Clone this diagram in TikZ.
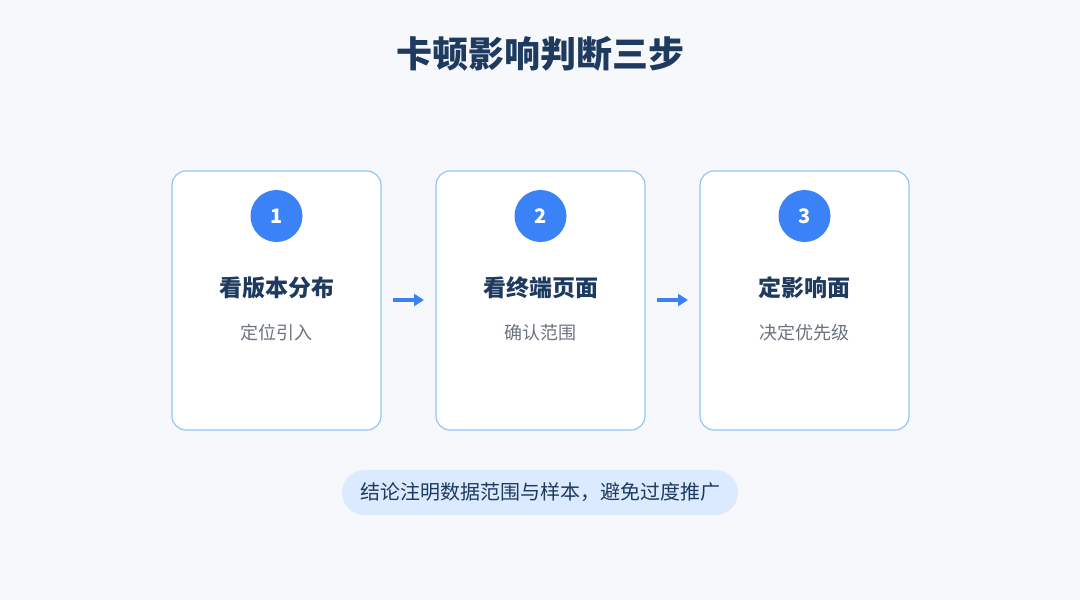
\documentclass[tikz,border=0pt]{standalone}
\usepackage{fontspec}
\setmainfont{Noto Sans CJK SC}
\usetikzlibrary{arrows.meta}
\definecolor{bg}{HTML}{F6F8FC}
\definecolor{dark}{HTML}{1E3A5F}
\definecolor{blue}{HTML}{3B82F6}
\definecolor{bord}{HTML}{93C5FD}
\definecolor{gray}{HTML}{6B7280}
\definecolor{pill}{HTML}{DBEAFE}
\begin{document}
\begin{tikzpicture}[x=1pt,y=-1pt,
  card/.style={draw=bord,line width=1.2pt,fill=white,rounded corners=14pt,minimum width=209pt,minimum height=259pt},
  num/.style={circle,fill=blue,minimum size=52pt,inner sep=0pt,text=white,font=\fontsize{20}{22}\selectfont\bfseries},
  ttl/.style={text=dark,font=\fontsize{23}{27}\selectfont\bfseries},
  sub/.style={text=gray,font=\fontsize{18}{21}\selectfont},
  arr/.style={-{Triangle[length=10pt,width=12pt]},blue,line width=3.5pt}]
\fill[bg] (0,0) rectangle (1080,600);
\useasboundingbox (0,0) rectangle (1080,600);
\node[text=dark,font=\fontsize{36}{40}\selectfont\bfseries] (title) at (540,54) {卡顿影响判断三步};
\foreach \i/\x/\t/\s in {1/276.5/看版本分布/定位引入,2/540.5/看终端页面/确认范围,3/804.5/定影响面/决定优先级}{
  \node[card] (c\i) at (\x,300.5) {};
  \node[num] (n\i) at (\x,216) {\i};
  \node[ttl] (t\i) at (\x,288) {\t};
  \node[sub] (s\i) at (\x,333) {\s};
}
\coordinate (a1s) at (393,300); \coordinate (a1e) at (424,300);
\coordinate (a2s) at (657,300); \coordinate (a2e) at (688,300);
\draw[arr] (a1s) -- (a1e);
\draw[arr] (a2s) -- (a2e);
\node[fill=pill,rounded corners=22.5pt,minimum width=396pt,minimum height=45pt,text=dark,font=\fontsize{20}{24}\selectfont] (note) at (540,492.5) {结论注明数据范围与样本，避免过度推广};
\end{tikzpicture}
\end{document}
